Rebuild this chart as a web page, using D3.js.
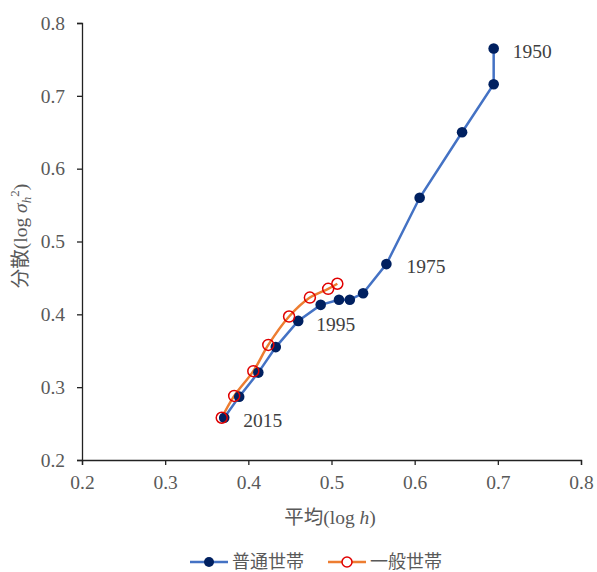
<!DOCTYPE html>
<html>
<head>
<meta charset="utf-8">
<script src="https://cdn.jsdelivr.net/npm/d3@7"></script>
<style>
  body { margin: 0; background: #fff; }
  svg { display: block; }
  .tick text { font-family: "Liberation Serif", serif; font-size: 19.5px; fill: #595959; }
  .lbl { font-family: "Liberation Serif", serif; font-size: 19.5px; fill: #404040; }
  .ttl { font-size: 19.5px; fill: #595959; }
</style>
</head>
<body>
<svg id="chart" width="597" height="572"></svg>
<script>
// 普通世帯 1950 -> 2015 (mean, variance)
const futsuMean = [0.695, 0.695, 0.657, 0.606, 0.566, 0.538, 0.522, 0.509, 0.487, 0.460, 0.433, 0.412, 0.389, 0.371];
const futsuVar  = [0.765, 0.716, 0.650, 0.560, 0.469, 0.429, 0.420, 0.420, 0.413, 0.391, 0.355, 0.320, 0.287, 0.258];
// 一般世帯 1980 -> 2015
const ippanMean = [0.507, 0.496, 0.474, 0.449, 0.424, 0.406, 0.383, 0.368];
const ippanVar  = [0.442, 0.435, 0.423, 0.397, 0.358, 0.322, 0.288, 0.258];
const xTicks = [0.2, 0.3, 0.4, 0.5, 0.6, 0.7, 0.8];
const yTicks = [0.2, 0.3, 0.4, 0.5, 0.6, 0.7, 0.8];
const yearLabels = [
  { year: "1950", i: 0 },
  { year: "1975", i: 4 },
  { year: "1995", i: 9 },
  { year: "2015", i: 13 }
];
const yearOffsets = [[19, 10], [20, 9], [18, 10], [19, 9]];

const svg = d3.select("#chart");
const margin = { top: 23, right: 16, bottom: 112, left: 82 };
const width = 597 - margin.left - margin.right;
const height = 572 - margin.top - margin.bottom;

const x = d3.scaleLinear().domain([0.2, 0.8]).range([0, width]);
const y = d3.scaleLinear().domain([0.2, 0.8]).range([height, 0]);

const g = svg.append("g").attr("transform", `translate(${margin.left},${margin.top})`);

const xAxis = g.append("g")
  .attr("transform", `translate(0,${height})`)
  .call(d3.axisBottom(x).tickValues(xTicks).tickFormat(d3.format(".1f")).tickSizeOuter(0).tickSize(5).tickPadding(10));
const yAxis = g.append("g")
  .call(d3.axisLeft(y).tickValues(yTicks).tickFormat(d3.format(".1f")).tickSizeOuter(0).tickSize(5).tickPadding(12));
[xAxis, yAxis].forEach(a => {
  a.select(".domain").attr("stroke", "#222").attr("stroke-width", 1.3);
  a.selectAll(".tick line").attr("stroke", "#222").attr("stroke-width", 1.3);
});

const futsu = futsuMean.map((m, i) => [m, futsuVar[i]]);
const ippan = ippanMean.map((m, i) => [m, ippanVar[i]]);

g.append("path").datum(futsu)
  .attr("fill", "none").attr("stroke", "#4472C4").attr("stroke-width", 2.5)
  .attr("d", d3.line().x(d => x(d[0])).y(d => y(d[1])));
g.append("path").datum(ippan)
  .attr("fill", "none").attr("stroke", "#ED7D31").attr("stroke-width", 2.5)
  .attr("d", d3.line().x(d => x(d[0])).y(d => y(d[1])).curve(d3.curveCatmullRom));

g.selectAll(".dot").data(futsu).enter().append("circle")
  .attr("cx", d => x(d[0])).attr("cy", d => y(d[1]))
  .attr("r", 5.3).attr("fill", "#002060");
g.selectAll(".ring").data(ippan).enter().append("circle")
  .attr("cx", d => x(d[0])).attr("cy", d => y(d[1]))
  .attr("r", 5.5).attr("fill", "none").attr("stroke", "#E00000").attr("stroke-width", 1.5);

yearLabels.forEach((l, k) => {
  const p = futsu[l.i];
  g.append("text").attr("class", "lbl")
    .attr("x", x(p[0]) + yearOffsets[k][0])
    .attr("y", y(p[1]) + yearOffsets[k][1])
    .text(l.year);
});

// axis titles
const jp = '"Noto Sans CJK JP", sans-serif';
const serif = '"Liberation Serif", serif';
const xt = svg.append("text").attr("class", "ttl")
  .attr("x", 330).attr("y", 524).attr("text-anchor", "middle");
xt.append("tspan").style("font-family", jp).text("平均");
xt.append("tspan").style("font-family", serif).text("(log ");
xt.append("tspan").style("font-family", serif).style("font-style", "italic").text("h");
xt.append("tspan").style("font-family", serif).text(")");

const yt = svg.append("text").attr("class", "ttl")
  .attr("transform", "translate(27,236) rotate(-90)").attr("text-anchor", "middle");
yt.append("tspan").style("font-family", jp).text("分散");
yt.append("tspan").style("font-family", serif).text("(log ");
yt.append("tspan").style("font-family", serif).style("font-style", "italic").text("σ");
yt.append("tspan").style("font-family", serif).style("font-style", "italic").style("font-size", "13px").attr("dy", 4).text("h");
yt.append("tspan").style("font-family", serif).style("font-size", "13px").attr("dy", -12).text("2");
yt.append("tspan").style("font-family", serif).attr("dy", 8).text(")");

// legend
const legend = svg.append("g").attr("transform", "translate(0,562)");
const items = [
  { name: "普通世帯", x: 190, stroke: "#4472C4", ring: false },
  { name: "一般世帯", x: 328, stroke: "#ED7D31", ring: true }
];
items.forEach(it => {
  legend.append("line").attr("x1", it.x).attr("x2", it.x + 38).attr("y1", 0).attr("y2", 0)
    .attr("stroke", it.stroke).attr("stroke-width", 2.5);
  if (it.ring) {
    legend.append("circle").attr("cx", it.x + 19).attr("cy", 0).attr("r", 5)
      .attr("fill", "#fff").attr("stroke", "#E00000").attr("stroke-width", 1.5);
  } else {
    legend.append("circle").attr("cx", it.x + 19).attr("cy", 0).attr("r", 5).attr("fill", "#002060");
  }
  legend.append("text").attr("x", it.x + 42).attr("y", 6)
    .style("font-family", jp).style("font-size", "18px").style("fill", "#595959")
    .text(it.name);
});
</script>
</body>
</html>
